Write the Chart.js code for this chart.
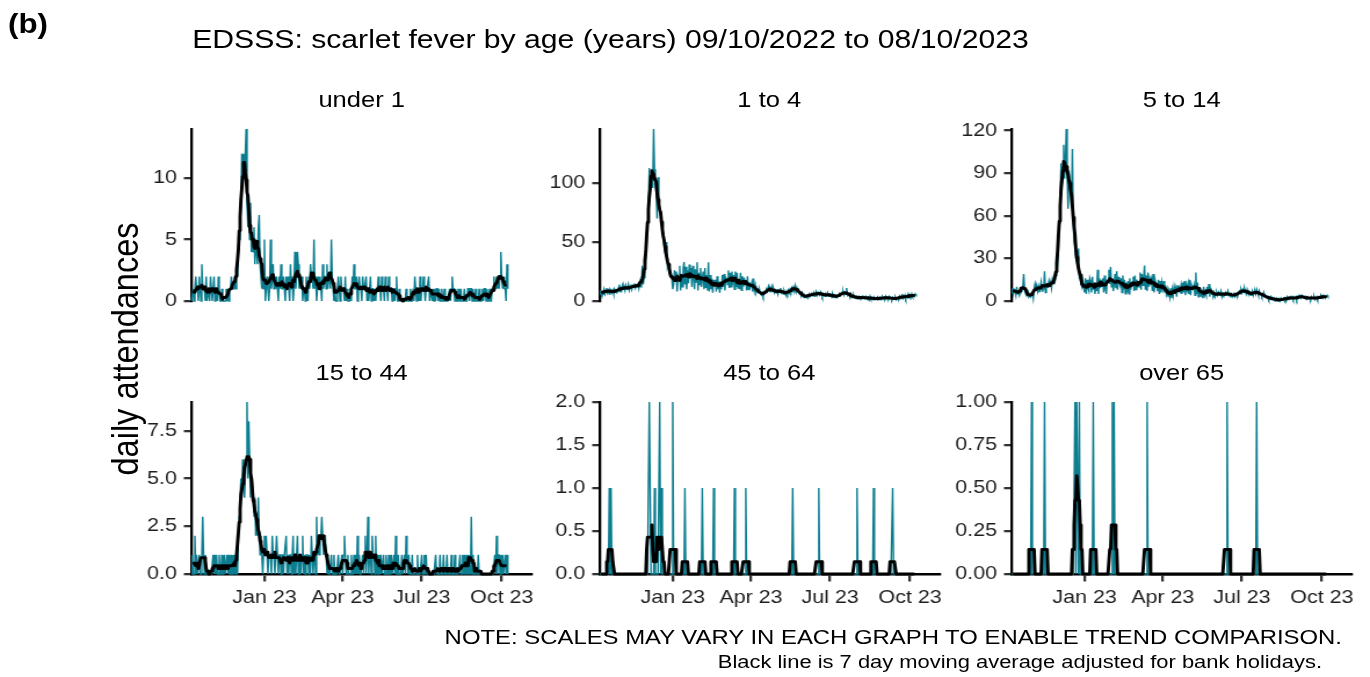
<!DOCTYPE html>
<html>
<head>
<meta charset="utf-8">
<script src="https://cdn.jsdelivr.net/npm/chart.js@4.4.1/dist/chart.umd.min.js"></script>
<style>
  body { margin: 0; background: #fff; overflow: hidden; }
  #stage { position: relative; height: 677px; transform-origin: 0 0;
           font-family: 'Liberation Sans', Arial, sans-serif; color: #000; }
  .txt { position: absolute; white-space: nowrap; line-height: 1; }
  .panel { position: absolute; }
</style>
</head>
<body>
<div id="stage"></div>
<script>
// glyphs in this figure are drawn a little wide, so the whole stage is stretched
const STRETCH = 1.16;
const PAGE_W = 1370;

// daily series start on 9 Oct 2022 (day 0) and end on 8 Oct 2023 (day 364)
const startDay = Date.UTC(2022, 9, 9);
const tickDates = [Date.UTC(2023, 0, 1), Date.UTC(2023, 3, 1), Date.UTC(2023, 6, 1), Date.UTC(2023, 9, 1)];
const tickLabels = ['Jan 23', 'Apr 23', 'Jul 23', 'Oct 23'];
const xEndDay = 391;

const ageGroups = ['under 1', '1 to 4', '5 to 14', '15 to 44', '45 to 64', 'over 65'];

// daily attendances, one row per week
const under1 = [
  0,0,1,0,1,2,1, 1,0,2,1,0,3,1, 1,1,0,2,0,1,1, 0,2,1,0,1,2,0,
  1,1,0,2,1,0,0, 1,0,0,0,0,1,0, 1,0,1,1,2,1,1, 1,2,1,3,2,4,5,
  6,8,12,11,12,10,12, 14,8,6,7,5,8,4, 5,4,6,3,5,4,3, 6,7,3,2,1,2,1,
  5,0,1,2,1,0,1, 5,1,2,3,1,2,1, 2,1,0,2,1,3,1, 1,2,1,0,2,1,2,
  1,0,3,1,2,0,1, 4,1,2,4,3,1,2, 1,2,0,1,1,0,2, 1,0,2,1,3,2,2,
  1,5,1,2,0,1,2, 1,2,1,0,3,1,2, 2,1,3,1,2,2,1, 5,2,1,0,1,0,0,
  1,2,1,0,2,1,1, 1,0,2,0,1,0,0, 0,1,0,2,1,3,1, 1,2,0,1,2,1,1,
  0,2,1,1,1,2,0, 1,0,1,2,0,1,1, 0,1,0,1,1,2,1, 1,0,2,1,1,0,2,
  1,1,0,2,1,1,1, 0,1,1,0,1,2,0, 0,1,0,0,0,0,0, 0,0,1,0,0,0,0,
  1,0,0,1,0,2,1, 0,1,1,0,2,0,1, 1,2,1,0,1,1,1, 2,0,1,1,0,1,0,
  1,0,1,1,0,1,0, 0,1,0,0,1,0,0, 0,0,0,1,0,1,2, 1,1,0,1,0,0,1,
  0,0,1,0,0,0,1, 0,0,0,1,1,0,1, 1,0,1,0,0,1,0, 0,0,1,0,0,0,1,
  0,1,1,0,1,0,0, 1,0,0,1,1,2,1, 1,2,1,2,1,2,4, 2,1,2,1,1,0,3,
  1
];

const age1to4 = [
  6,9,5,8,7,10,6, 8,11,7,9,6,10,9, 7,9,6,10,8,7,9, 10,12,8,11,9,13,10,
  12,9,13,10,11,14,9, 11,14,10,13,12,15,11, 13,12,15,11,16,12,14, 30,14,20,26,35,50,68,
  80,113,95,102,110,96,146, 112,98,92,70,105,84,78, 75,68,62,55,48,42,38, 50,28,30,26,22,24,20,
  10,14,26,18,25,8,21, 19,30,9,22,12,28,33, 14,29,10,26,15,31,20, 28,12,30,21,10,27,16,
  33,9,24,14,28,12,19, 25,10,28,11,22,9,33, 8,22,10,19,7,18,13, 18,8,21,10,17,7,16,
  10,22,12,23,9,20,19, 14,26,11,24,12,25,17, 22,10,25,12,24,11,17, 10,24,9,21,12,20,14,
  18,9,21,10,16,11,13, 16,8,19,9,13,7,9, 10,8,9,6,5,7,4, 6,8,7,10,9,12,8,
  11,9,12,8,10,7,9, 7,10,6,9,8,11,7, 8,6,9,7,5,8,6, 9,7,10,8,11,9,12,
  10,13,8,11,9,7,8, 6,5,7,4,3,5,4, 3,5,4,6,4,5,6, 5,7,4,6,8,5,7,
  6,5,8,7,4,6,5, 4,6,5,7,4,5,6, 5,3,6,4,5,3,4, 3,5,4,6,5,7,6,
  8,5,7,6,11,5,6, 5,4,6,3,4,5,3, 4,2,3,2,4,3,2, 3,4,2,3,2,4,3,
  2,3,1,4,2,3,2, 1,3,2,2,1,3,2, 3,1,2,4,2,3,2, 4,2,3,2,4,3,2,
  1,3,2,2,3,1,2, 3,2,4,2,3,6,2, 3,5,2,4,3,6,4, 5,3,6,4,5,4,6,
  5
];

const age5to14 = [
  6,9,5,8,7,4,10, 5,7,4,6,9,8,10, 19,8,6,5,4,6,3, 4,3,5,6,2,9,12,
  8,11,7,10,6,9,13, 7,12,8,21,6,9,10, 11,14,10,13,9,15,12, 16,14,18,20,26,38,55,
  75,97,82,94,110,86,98, 121,90,65,92,85,74,66, 107,55,42,38,30,28,24, 37,16,15,12,10,14,9,
  6,16,5,15,9,7,16, 14,6,17,8,13,5,12, 7,22,5,16,9,15,10, 16,6,18,9,5,14,13,
  22,12,24,10,16,7,12, 19,9,21,8,17,13,11, 16,6,18,8,15,5,13, 6,14,5,16,8,12,11,
  17,7,18,8,15,10,10, 10,20,8,19,11,16,25, 8,18,7,20,10,16,14, 16,7,19,6,15,12,11,
  7,15,5,14,6,13,9, 14,6,11,5,8,3,7, 3,9,2,8,4,10,6, 9,3,11,6,9,7,11,
  5,13,6,14,4,11,8, 12,5,15,4,11,8,8, 11,4,20,5,13,3,9, 9,3,8,2,10,4,6,
  4,10,5,12,3,9,8, 5,4,6,3,5,6,4, 6,4,5,7,3,5,4, 5,6,4,5,7,4,5,
  4,5,3,4,6,3,4, 5,4,6,7,5,8,6, 8,6,9,7,5,8,6, 5,6,4,5,7,4,6,
  7,5,8,6,4,7,5, 5,3,4,6,3,4,3, 2,3,1,2,3,1,2, 1,2,0,1,2,1,0,
  1,0,2,1,1,2,0, 2,1,3,2,1,2,3, 2,3,1,2,2,3,1, 3,2,4,3,2,4,3,
  3,2,3,1,2,3,2, 2,1,3,2,2,3,1, 2,3,1,2,3,2,4, 3,2,4,3,2,3,4,
  3
];

const age15to44 = [
  0,1,0,0,2,0,1, 0,0,1,0,0,1,3, 1,0,1,0,0,0,0, 0,0,0,0,1,0,1,
  0,1,0,0,1,0,0, 1,0,0,1,0,0,1, 0,1,0,0,1,0,1, 0,1,0,1,0,2,3,
  4,5,4,6,5,4,5, 6,9,5,8,6,4,5, 5,4,3,4,2,3,2, 4,2,1,2,1,0,1,
  2,1,2,1,0,1,1, 1,0,2,1,1,0,1, 2,1,0,1,1,0,1, 1,0,1,1,2,0,1,
  0,1,1,0,1,2,0, 1,0,1,2,0,1,1, 0,1,2,0,1,0,1, 1,1,0,1,0,2,1,
  0,1,1,0,3,1,2, 1,2,2,3,2,1,2, 2,1,0,1,0,0,0, 1,0,0,1,0,0,0,
  0,1,0,0,0,1,0, 1,2,1,0,0,1,0, 0,0,1,0,0,1,0, 1,0,2,0,1,0,0,
  0,1,0,1,2,0,1, 3,0,1,1,0,2,1, 1,0,2,0,1,0,1, 0,1,0,0,1,0,0,
  1,0,0,1,0,0,1, 0,0,1,0,2,0,0, 1,0,0,0,1,0,0, 1,0,2,1,0,1,0,
  0,0,1,0,0,0,0, 0,1,0,0,0,0,1, 0,0,1,0,1,0,0, 0,0,0,0,0,0,0,
  0,1,0,0,0,0,1, 0,0,0,1,0,0,0, 1,0,0,0,0,1,0, 0,0,1,0,0,0,0,
  0,1,0,0,1,0,1, 0,1,0,1,0,1,0, 3,0,1,0,0,0,0, 0,1,0,0,0,0,0,
  0,0,0,0,0,0,0, 0,0,0,0,0,0,1, 0,2,0,1,1,0,1, 0,1,0,0,1,0,1,
  0
];

// the two oldest groups are sparse: [day, attendances]
const age45to64Cases = [
  [11, 1], [13, 1], [57, 2], [58, 1], [63, 1], [69, 2], [71, 1], [84, 2], [98, 1],
  [118, 1], [131, 1], [155, 1], [168, 1], [222, 1], [252, 1], [296, 1], [315, 1], [337, 1]
];
const over65Cases = [
  [23, 1], [38, 1], [73, 1], [75, 1], [76, 1], [78, 1], [94, 1], [116, 1], [118, 1],
  [156, 1], [248, 1], [282, 1]
];

const under1Ticks = [0, 5, 10];
const age1to4Ticks = [0, 50, 100];
const age5to14Ticks = [0, 30, 60, 90, 120];
const age15to44Ticks = [0, 2.5, 5, 7.5];
const age45to64Ticks = [0, 0.5, 1, 1.5, 2];
const over65Ticks = [0, 0.25, 0.5, 0.75, 1];

const TEAL = '#0B7D8F';
const FONT = "'Liberation Sans', Arial, sans-serif";

function fromCases(cases, days) {
  const d = new Array(days).fill(0);
  cases.forEach(([day, n]) => { d[day] = n; });
  return d;
}

function movingAverage(daily) {
  const out = [];
  for (let i = 3; i < daily.length - 3; i++) {
    let s = 0;
    for (let k = i - 3; k <= i + 3; k++) s += daily[k];
    out.push({ x: i, y: s / 7 });
  }
  return out;
}

const DAYS = under1.length;
const tickDays = tickDates.map(t => Math.round((t - startDay) / 86400000));

const panelData = [
  { daily: under1, ticks: under1Ticks, dec: 0 },
  { daily: age1to4, ticks: age1to4Ticks, dec: 0 },
  { daily: age5to14, ticks: age5to14Ticks, dec: 0 },
  { daily: age15to44, ticks: age15to44Ticks, dec: 1 },
  { daily: fromCases(age45to64Cases, DAYS), ticks: age45to64Ticks, dec: 1 },
  { daily: fromCases(over65Cases, DAYS), ticks: over65Ticks, dec: 2 }
];

// page layout (unstretched page pixels)
const colLeft = [191.7, 599.3, 1011.7];
const rowTop = [124, 397];
const plotW = 340, plotH = 177;
const AXW = 70, PADT = 12, PADR = 12, XAXH = 45;

const stage = document.getElementById('stage');
stage.style.width = (PAGE_W / STRETCH) + 'px';
stage.style.transform = 'scaleX(' + STRETCH + ')';

function addText(str, x, baseline, size, align, weight) {
  const d = document.createElement('div');
  d.className = 'txt';
  d.textContent = str;
  d.style.fontSize = size + 'px';
  if (weight) d.style.fontWeight = weight;
  d.style.top = (baseline - size * 0.8465) + 'px';
  const sx = x / STRETCH;
  if (align === 'center') {
    d.style.left = sx + 'px';
    d.style.transform = 'translateX(-50%)';
  } else if (align === 'right') {
    d.style.right = (PAGE_W / STRETCH - sx) + 'px';
  } else {
    d.style.left = sx + 'px';
  }
  stage.appendChild(d);
  return d;
}

addText('(b)', 8, 34, 27, 'left', 'bold');
addText('EDSSS: scarlet fever by age (years) 09/10/2022 to 08/10/2023', 610.5, 48.5, 26, 'center');
addText('NOTE: SCALES MAY VARY IN EACH GRAPH TO ENABLE TREND COMPARISON.', 1342, 644, 20.6, 'right');
addText('Black line is 7 day moving average adjusted for bank holidays.', 1322, 669, 18.9, 'right');

const yLab = document.createElement('div');
yLab.className = 'txt';
yLab.textContent = 'daily attendances';
yLab.style.fontSize = '32.5px';
yLab.style.left = (125 / STRETCH) + 'px';
yLab.style.top = '349px';
yLab.style.transform = 'translate(-50%, -50%) rotate(-90deg)';
stage.appendChild(yLab);

panelData.forEach((p, idx) => {
  const col = idx % 3, row = Math.floor(idx / 3);
  const bottomRow = row === 1;
  const L = colLeft[col], T = rowTop[row];

  addText(ageGroups[idx], L + plotW / 2, T - 16, 22, 'center');

  const w = Math.round(plotW / STRETCH) + AXW + PADR;
  const h = plotH + PADT + XAXH;
  const wrap = document.createElement('div');
  wrap.className = 'panel';
  wrap.style.left = (L / STRETCH - AXW) + 'px';
  wrap.style.top = (T - PADT) + 'px';
  const canvas = document.createElement('canvas');
  canvas.width = w;
  canvas.height = h;
  canvas.style.width = w + 'px';
  canvas.style.height = h + 'px';
  wrap.appendChild(canvas);
  stage.appendChild(wrap);

  const points = p.daily.map((v, i) => ({ x: i, y: v }));
  const yMax = Math.max(...p.daily);

  new Chart(canvas, {
    type: 'line',
    data: {
      datasets: [
        { data: movingAverage(p.daily), borderColor: '#000', borderWidth: 2.9,
          pointRadius: 0, borderJoinStyle: 'round', borderCapStyle: 'round', clip: false },
        { data: points, borderColor: TEAL, borderWidth: 1.4, pointRadius: 0, clip: false }
      ]
    },
    options: {
      responsive: false,
      animation: false,
      events: [],
      layout: { padding: { left: 0, top: PADT, right: PADR, bottom: 0 } },
      plugins: { legend: { display: false }, tooltip: { enabled: false } },
      scales: {
        // the x axis always reserves XAXH; only the bottom row shows it
        x: {
          type: 'linear', min: 0, max: xEndDay, display: bottomRow,
          afterBuildTicks: s => { s.ticks = tickDays.map(v => ({ value: v })); },
          afterFit: s => { s.height = XAXH; },
          ticks: { autoSkip: false, maxRotation: 0, padding: 5,
                   color: '#1e1e1e', font: { family: FONT, size: 18.5 },
                   callback: (v, i) => tickLabels[i] },
          grid: { display: true, drawOnChartArea: false, drawTicks: true,
                  tickLength: 7.5, color: '#333', lineWidth: 2.3 },
          border: { display: true, color: '#000', width: 2.6 }
        },
        y: {
          min: 0, max: yMax,
          afterBuildTicks: s => { s.ticks = p.ticks.map(v => ({ value: v })); },
          afterFit: s => { s.width = AXW; },
          ticks: { padding: 6, color: '#1e1e1e', font: { family: FONT, size: 18.5 },
                   callback: v => v.toFixed(p.dec) },
          grid: { display: true, drawOnChartArea: false, drawTicks: true,
                  tickLength: 6.5, color: '#333', lineWidth: 2.3 },
          border: { display: true, color: '#000', width: 2.3 }
        }
      }
    }
  });
});
</script>
</body>
</html>
